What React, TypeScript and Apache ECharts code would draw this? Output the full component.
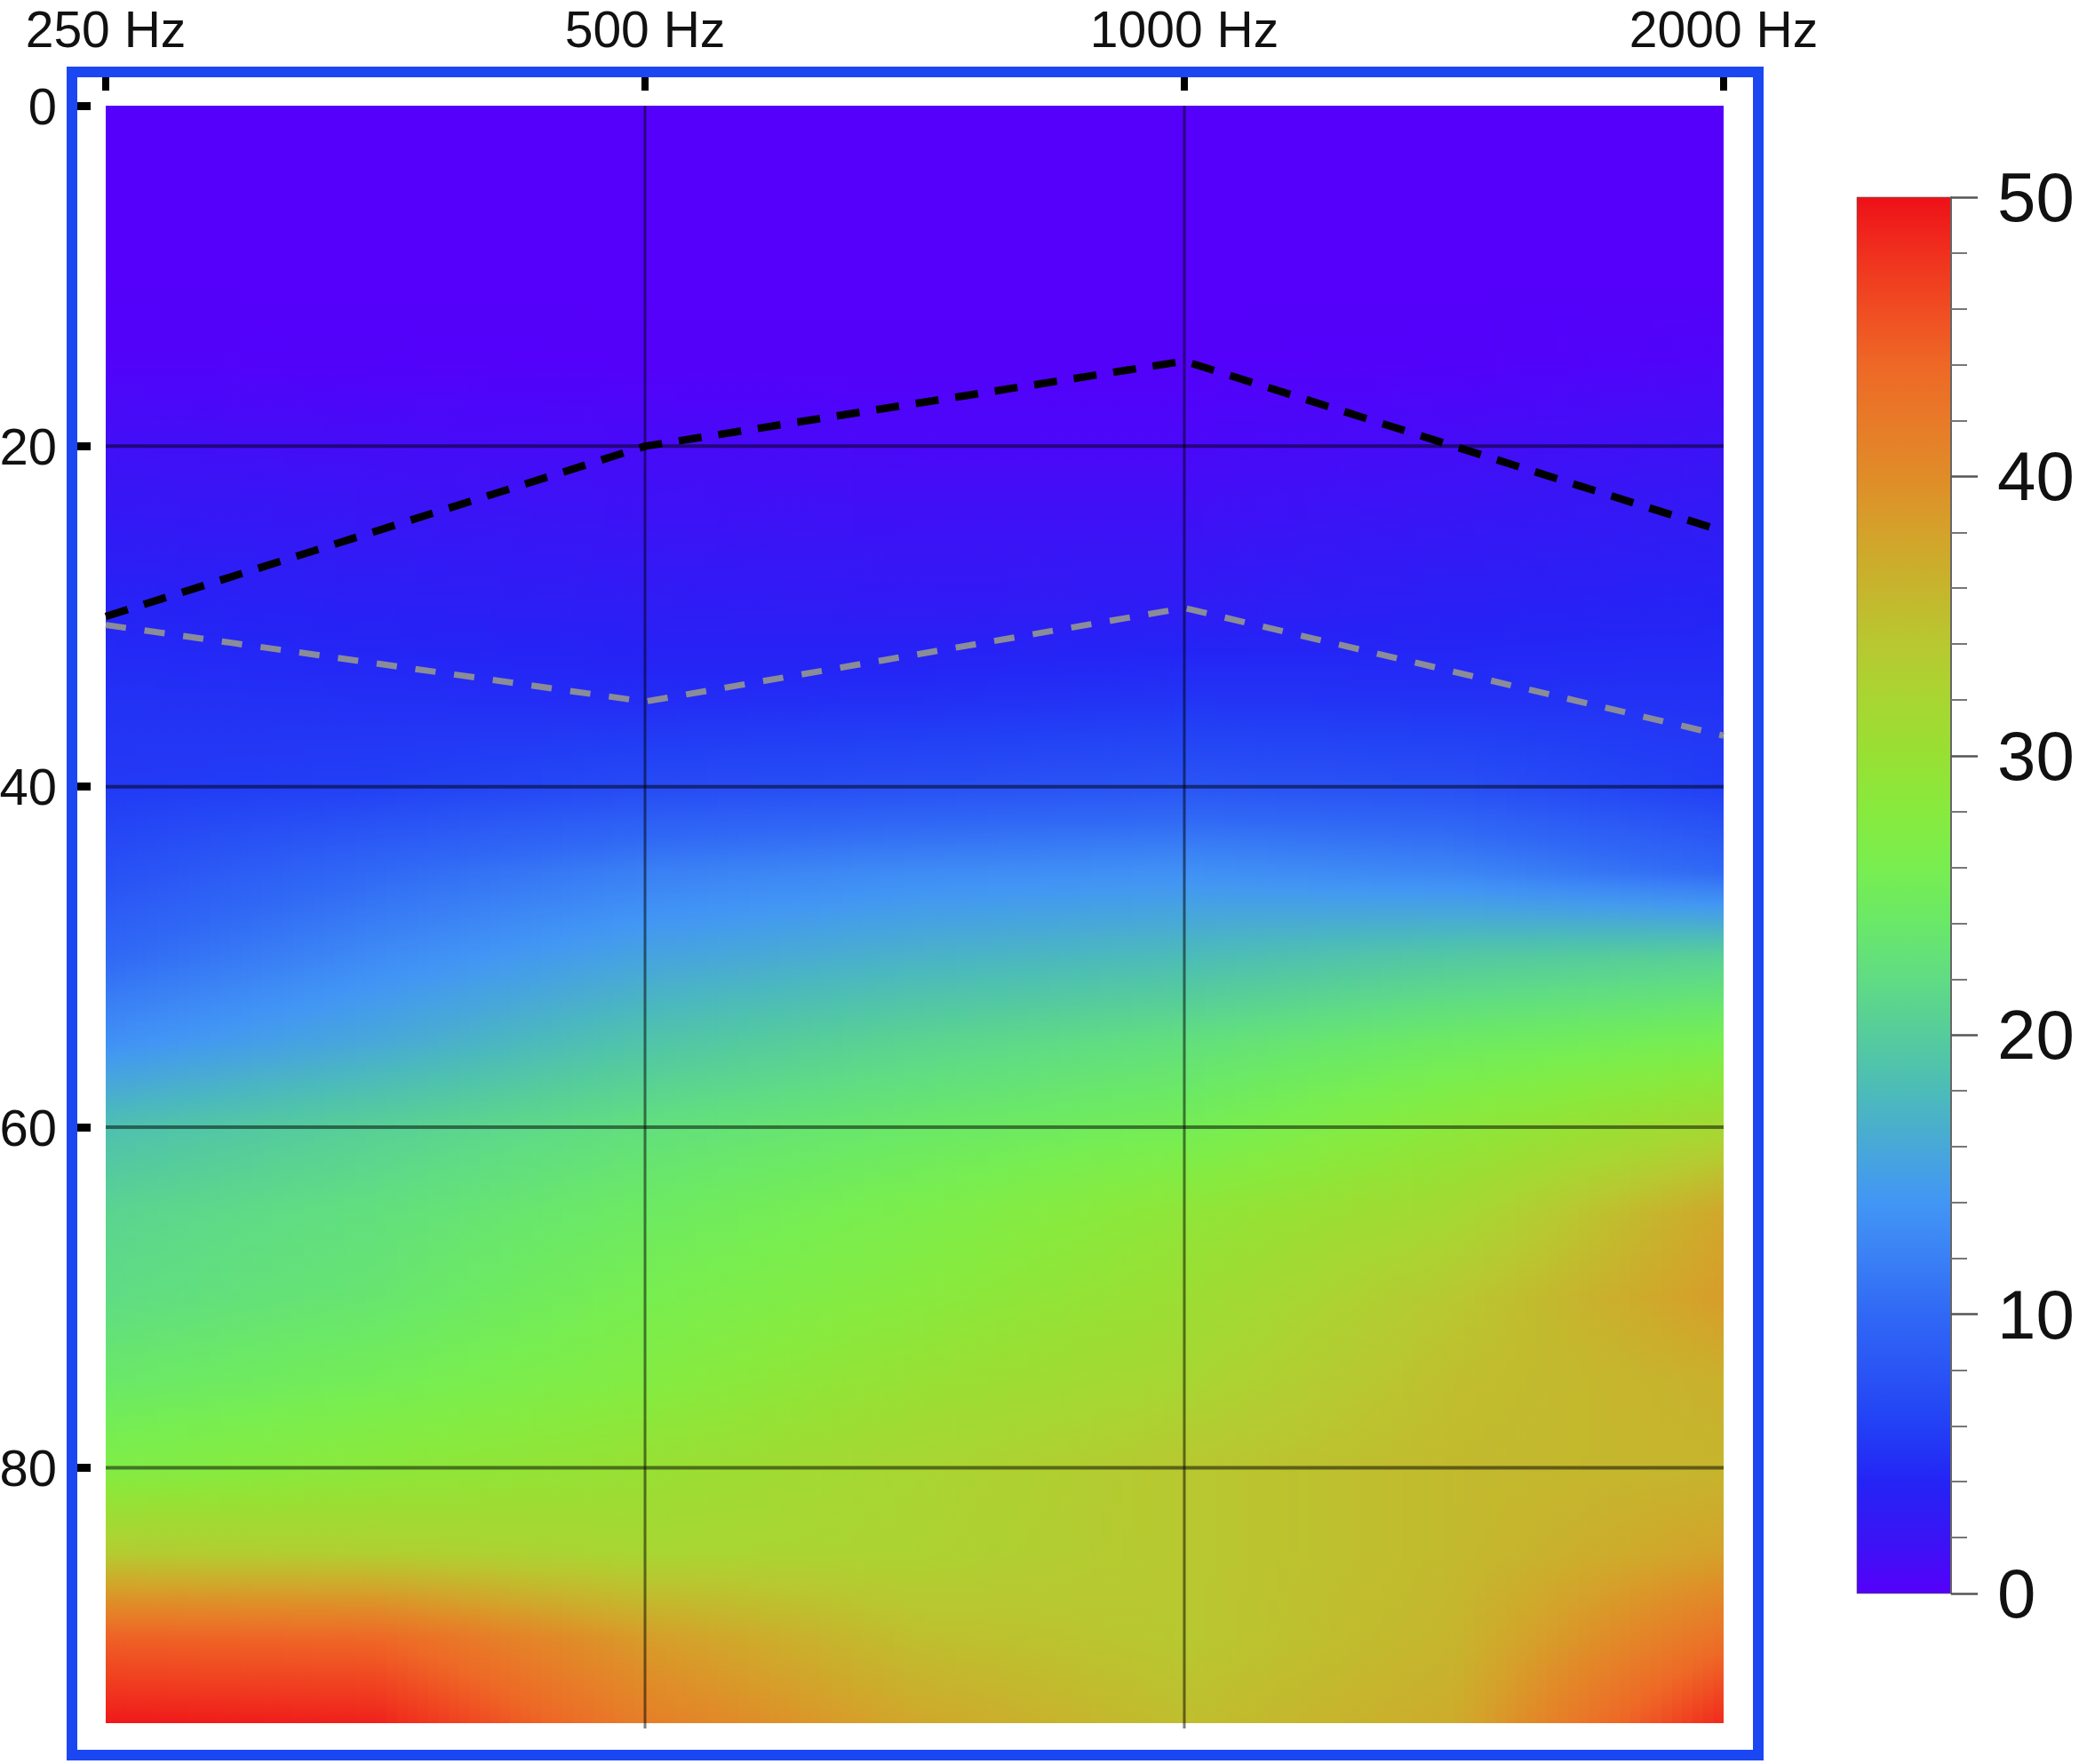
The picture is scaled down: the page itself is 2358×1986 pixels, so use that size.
import { useEffect, useRef } from 'react';
import * as echarts from 'echarts';

// ---- data ----
const TICK_FREQS = [250, 500, 1000, 2000];
const FREQ_LABELS = ['250 Hz', '500 Hz', '1000 Hz', '2000 Hz'];
const GRID_FREQS = [500, 1000];
const Y_TICKS = [0, 20, 40, 60, 80];
const GRID_LEVELS = [20, 40, 60, 80];
const LEVEL_MAX = 95;

const COL_FREQS = [250, 354, 500, 707, 1000, 1414, 2000];
const LEVELS = [0, 5, 10, 15, 20, 25, 30, 35, 40, 45, 50, 55, 60, 65, 70, 75, 80, 85, 90, 95];
const FIELD = [
  [0, 0, 0, 0, 0, 0, 0],
  [0, 0, 0, 0, 0, 0, 0],
  [0, 0, 0, 0, 0, 0, 0],
  [0.3, 0.2, 0.1, 0.1, 0.1, 0.2, 0.5],
  [1.5, 1.2, 1.0, 0.8, 0.8, 1.2, 1.8],
  [2.8, 2.4, 2.0, 1.8, 1.8, 2.4, 3.0],
  [4.0, 3.6, 3.2, 3.0, 3.2, 3.6, 4.0],
  [5.0, 4.8, 4.6, 4.8, 5.2, 5.0, 5.0],
  [5.5, 6.0, 7.0, 7.5, 8.0, 7.5, 5.8],
  [7.5, 10.0, 12.0, 13.0, 13.5, 12.5, 10.0],
  [10.0, 13.0, 15.5, 17.0, 18.0, 19.5, 20.5],
  [13.5, 16.0, 19.0, 21.0, 22.5, 24.5, 26.0],
  [18.5, 20.5, 22.5, 24.0, 25.5, 28.5, 31.5],
  [21.0, 22.5, 24.5, 26.5, 29.0, 31.5, 37.5],
  [22.0, 23.5, 26.0, 28.0, 30.5, 34.0, 38.5],
  [24.0, 25.5, 27.5, 30.0, 32.0, 35.0, 36.5],
  [27.0, 28.5, 30.0, 32.0, 34.0, 35.5, 36.0],
  [33.5, 33.0, 32.0, 32.5, 34.0, 35.5, 38.0],
  [44.5, 44.0, 38.5, 35.0, 34.0, 36.0, 43.0],
  [49.5, 49.0, 41.5, 37.5, 35.0, 37.0, 48.5],
];

// dashed threshold lines at TICK_FREQS
const BLACK_LINE = [30, 20, 15, 25];
const GRAY_LINE = [30.5, 35, 29.5, 37];

// colour scale
const CBAR_MIN = 0;
const CBAR_MAX = 50;
const CMAP_VALUES = [0, 2, 4, 6, 8, 10, 12, 14, 16, 18, 20, 22, 24, 26, 28, 30, 32, 34, 36, 38, 40, 42, 44, 46, 48, 50];
const CMAP_COLORS = [
  '#5500FA', '#3A14F5', '#2424F5', '#2240F5', '#2A55F5', '#3068F5', '#3A80F5', '#4296F5',
  '#48A8D8', '#4CBCB8', '#55CC9C', '#60DC84', '#6AE868', '#78EE50', '#88EA3E', '#98E034',
  '#A8D632', '#B8C830', '#C6B52D', '#D4A22A', '#E08C28', '#E87A28', '#EE6826', '#F04C22',
  '#F0301E', '#EE1018',
];

// ---- helpers ----
const octave = (f: number) => Math.log2(f / 250);
const COL_X = COL_FREQS.map(octave);
const X_MAX = octave(2000);

function hexRgb(h: string) {
  const n = parseInt(h.slice(1), 16);
  return [(n >> 16) & 255, (n >> 8) & 255, n & 255];
}
const CMAP_RGB = CMAP_COLORS.map(hexRgb);

function colorFor(v: number) {
  const t = Math.max(CBAR_MIN, Math.min(CBAR_MAX, v));
  let i = 0;
  while (i < CMAP_VALUES.length - 2 && t > CMAP_VALUES[i + 1]) i++;
  const a = CMAP_VALUES[i], b = CMAP_VALUES[i + 1];
  const f = (t - a) / (b - a);
  const c0 = CMAP_RGB[i], c1 = CMAP_RGB[i + 1];
  const r = Math.round(c0[0] + (c1[0] - c0[0]) * f);
  const g = Math.round(c0[1] + (c1[1] - c0[1]) * f);
  const bb = Math.round(c0[2] + (c1[2] - c0[2]) * f);
  return `rgb(${r},${g},${bb})`;
}

function fieldAt(x: number, L: number) {
  let i = 0;
  while (i < COL_X.length - 2 && x > COL_X[i + 1]) i++;
  let j = 0;
  while (j < LEVELS.length - 2 && L > LEVELS[j + 1]) j++;
  const fx = Math.max(0, Math.min(1, (x - COL_X[i]) / (COL_X[i + 1] - COL_X[i])));
  const fy = Math.max(0, Math.min(1, (L - LEVELS[j]) / (LEVELS[j + 1] - LEVELS[j])));
  const v00 = FIELD[j][i], v01 = FIELD[j][i + 1], v10 = FIELD[j + 1][i], v11 = FIELD[j + 1][i + 1];
  const top = v00 + (v01 - v00) * fx;
  const bot = v10 + (v11 - v10) * fx;
  return top + (bot - top) * fy;
}

const FONT = "'Liberation Sans', Arial, sans-serif";
const STRIPS = 26;

export default function App() {
  const ref = useRef<HTMLDivElement>(null);

  useEffect(() => {
    if (!ref.current) return;
    const chart = echarts.init(ref.current, null, { renderer: 'svg' });

    const intervals = COL_X.slice(0, -1).map((x, k) => [x, COL_X[k + 1]]);

    const option: any = {
      animation: false,
      backgroundColor: '#ffffff',
      textStyle: { fontFamily: FONT },
      grid: [
        { left: 119, top: 119, width: 1821, height: 1821, containLabel: false, outerBoundsMode: 'none' },
        { left: 2090, top: 222, width: 106, height: 1572, containLabel: false, outerBoundsMode: 'none' },
      ],
      xAxis: [
        {
          gridIndex: 0,
          type: 'value',
          position: 'top',
          min: 0,
          max: X_MAX,
          offset: 17,
          z: 6,
          axisLine: { show: false, onZero: false },
          axisTick: {
            show: true,
            inside: false,
            customValues: TICK_FREQS.map(octave),
            length: 15,
            lineStyle: { color: '#000', width: 8 },
          },
          axisLabel: {
            customValues: TICK_FREQS.map(octave),
            formatter: (v: number) => FREQ_LABELS[Math.round(v)] ?? '',
            fontSize: 57,
            color: '#111',
            margin: 41,
            fontFamily: FONT,
          },
          splitLine: { show: false },
        },
        { gridIndex: 1, type: 'value', min: 0, max: 1, show: false },
      ],
      yAxis: [
        {
          gridIndex: 0,
          type: 'value',
          inverse: true,
          min: 0,
          max: LEVEL_MAX,
          position: 'left',
          offset: 17,
          z: 6,
          axisLine: { show: false, onZero: false },
          axisTick: {
            show: true,
            inside: false,
            customValues: Y_TICKS,
            length: 15,
            lineStyle: { color: '#000', width: 9 },
          },
          axisLabel: {
            customValues: Y_TICKS,
            fontSize: 58,
            color: '#111',
            margin: 38,
            fontFamily: FONT,
          },
          splitLine: { show: false },
        },
        {
          gridIndex: 1,
          type: 'value',
          position: 'right',
          min: CBAR_MIN,
          max: CBAR_MAX,
          interval: 10,
          z: 6,
          axisLine: { show: true, onZero: false, lineStyle: { color: '#666', width: 2 } },
          axisTick: { show: true, inside: false, length: 30, lineStyle: { color: '#555', width: 2.5 } },
          minorTick: { show: true, splitNumber: 5, length: 18, lineStyle: { color: '#777', width: 2 } },
          axisLabel: { fontSize: 78, margin: 52, color: '#111', fontFamily: FONT },
          splitLine: { show: false },
        },
      ],
      graphic: [
        {
          type: 'rect',
          shape: { x: 81, y: 81, width: 1898, height: 1895 },
          style: { fill: 'none', stroke: '#1B47F2', lineWidth: 12 },
          z: 0,
        },
      ],
      series: [
        {
          type: 'custom',
          name: 'field',
          xAxisIndex: 0,
          yAxisIndex: 0,
          silent: true,
          z: 1,
          data: intervals,
          renderItem: (params: any, api: any) => {
            const xa = api.value(0);
            const xb = api.value(1);
            const children: any[] = [];
            for (let s = 0; s < STRIPS; s++) {
              const x0 = xa + ((xb - xa) * s) / STRIPS;
              const x1 = xa + ((xb - xa) * (s + 1)) / STRIPS;
              const xc = (x0 + x1) / 2;
              const p0 = api.coord([x0, 0]);
              const p1 = api.coord([x1, LEVEL_MAX]);
              const stops: any[] = [];
              for (let L = 0; L <= LEVEL_MAX; L += 1) {
                stops.push({ offset: L / LEVEL_MAX, color: colorFor(fieldAt(xc, L)) });
              }
              const last = s === STRIPS - 1 && params.dataIndex === intervals.length - 1;
              children.push({
                type: 'rect',
                shape: {
                  x: p0[0],
                  y: p0[1],
                  width: p1[0] - p0[0] + (last ? 0 : 1.2),
                  height: p1[1] - p0[1],
                },
                style: {
                  fill: { type: 'linear', x: 0, y: 0, x2: 0, y2: 1, colorStops: stops },
                  stroke: null,
                },
              });
            }
            return { type: 'group', children };
          },
        },
        {
          type: 'custom',
          name: 'vgrid',
          xAxisIndex: 0,
          yAxisIndex: 0,
          silent: true,
          z: 3,
          data: GRID_FREQS.map((f) => [octave(f), 0]),
          renderItem: (params: any, api: any) => {
            const x = api.value(0);
            const p0 = api.coord([x, 0]);
            const p1 = api.coord([x, LEVEL_MAX]);
            return {
              type: 'line',
              shape: { x1: p0[0], y1: p0[1], x2: p1[0], y2: p1[1] + 6 },
              style: { stroke: 'rgba(0,0,0,0.5)', lineWidth: 3 },
            };
          },
        },
        {
          type: 'custom',
          name: 'hgrid',
          xAxisIndex: 0,
          yAxisIndex: 0,
          silent: true,
          z: 3,
          data: GRID_LEVELS.map((l) => [0, l]),
          renderItem: (params: any, api: any) => {
            const l = api.value(1);
            const p0 = api.coord([0, l]);
            const p1 = api.coord([X_MAX, l]);
            return {
              type: 'line',
              shape: { x1: p0[0], y1: p0[1], x2: p1[0], y2: p1[1] },
              style: { stroke: 'rgba(0,0,0,0.5)', lineWidth: 4 },
            };
          },
        },
        {
          type: 'line',
          name: 'black',
          xAxisIndex: 0,
          yAxisIndex: 0,
          z: 10,
          symbol: 'none',
          data: TICK_FREQS.map((f, i) => [octave(f), BLACK_LINE[i]]),
          lineStyle: { color: '#000', width: 8.5, type: [26, 19], cap: 'butt' },
        },
        {
          type: 'line',
          name: 'gray',
          xAxisIndex: 0,
          yAxisIndex: 0,
          z: 10,
          symbol: 'none',
          data: TICK_FREQS.map((f, i) => [octave(f), GRAY_LINE[i]]),
          lineStyle: { color: '#8a8c98', width: 7, type: [23, 21], cap: 'butt' },
        },
        {
          type: 'custom',
          name: 'colorbar',
          xAxisIndex: 1,
          yAxisIndex: 1,
          silent: true,
          z: 1,
          data: [[0, CBAR_MIN, 1, CBAR_MAX]],
          renderItem: (params: any, api: any) => {
            const p0 = api.coord([api.value(0), api.value(3)]);
            const p1 = api.coord([api.value(2), api.value(1)]);
            const stops = CMAP_VALUES.map((v, i) => ({
              offset: 1 - (v - CBAR_MIN) / (CBAR_MAX - CBAR_MIN),
              color: CMAP_COLORS[i],
            })).reverse();
            return {
              type: 'rect',
              shape: { x: p0[0], y: p0[1], width: p1[0] - p0[0], height: p1[1] - p0[1] },
              style: {
                fill: { type: 'linear', x: 0, y: 0, x2: 0, y2: 1, colorStops: stops },
                stroke: 'rgba(90,90,90,0.6)',
                lineWidth: 1,
              },
            };
          },
        },
      ],
    };

    chart.setOption(option);
    return () => chart.dispose();
  }, []);

  return (
    <div
      ref={ref}
      style={{ position: 'absolute', left: 0, top: 0, width: '2358px', height: '1986px' }}
    />
  );
}
